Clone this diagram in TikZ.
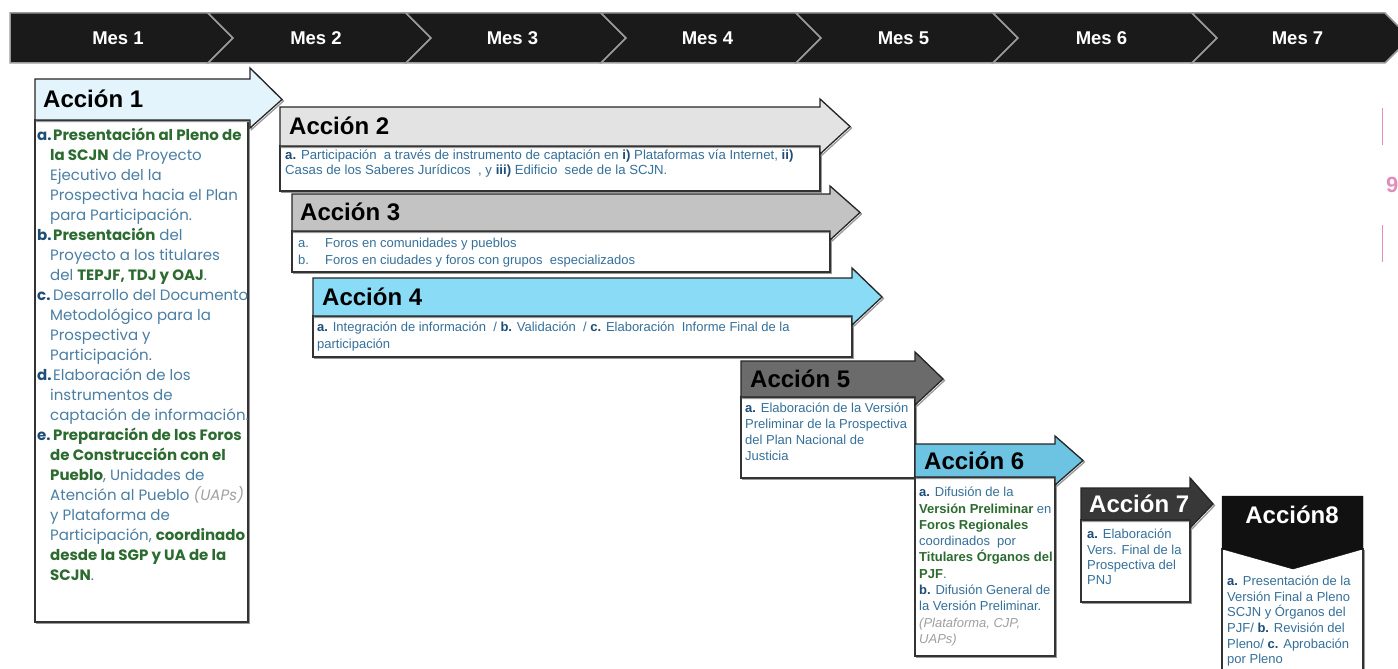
\documentclass[tikz,border=0pt]{standalone}
\usepackage{fontspec}
\setmainfont{Liberation Sans}
\newfontfamily\geo{Poppins}
\definecolor{txtblue}{HTML}{35709A}
\definecolor{boxblue}{HTML}{4A7EA3}
\definecolor{dkblue}{HTML}{1E4D78}
\definecolor{grn}{HTML}{2C6B30}
\definecolor{ltgray}{HTML}{A0A0A0}
\definecolor{pinkc}{HTML}{E38DBB}
\definecolor{barblack}{HTML}{1A1A1A}
\definecolor{bargray}{HTML}{9A9A9A}
\definecolor{fa}{HTML}{E4F4FC}
\definecolor{fb}{HTML}{E3E3E3}
\definecolor{fc}{HTML}{C3C3C3}
\definecolor{fd}{HTML}{8ADCF6}
\definecolor{fe}{HTML}{6B6B6B}
\definecolor{ff}{HTML}{6DC3E2}
\definecolor{fg}{HTML}{383838}
\definecolor{fh}{HTML}{111111}
\newcommand{\hlg}[1]{{\bfseries\color{grn}#1}}
\newcommand{\hlb}[1]{{\bfseries\color{dkblue}#1}}
\newcommand{\hlgray}[1]{{\itshape\color{ltgray}#1}}
\newcommand{\itm}[1]{\makebox[16pt][l]{\hlb{#1}}}
\newcommand{\cnt}{\hspace*{13pt}}
\newcommand{\harrow}[8]{%
  \path[hdr, fill=#1] (#2,#4) -- (#3,#4) -- (#3,#6) -- (#8,{(#4+#5)/2}) -- (#3,#7) -- (#3,#5) -- (#2,#5) -- cycle;}
\tikzset{
  shadowed/.style={preaction={draw=black!40, line width=1.3pt, transform canvas={shift={(1.5,1.5)}}}},
  hdr/.style={shadowed, draw=black!85, line width=1.3pt},
  bx/.style={shadowed, draw=black!80, line width=1.3pt, fill=white},
  htxt/.style={anchor=west, inner sep=0, font=\bfseries\fontsize{24}{24}\selectfont},
  btxt/.style={anchor=north west, inner sep=0, align=left, text=txtblue},
  mes/.style={text=white, inner sep=0, font=\bfseries\fontsize{18.5}{18.5}\selectfont},
  seg/.style={fill=barblack, draw=bargray, line width=1.5pt},
}
\begin{document}
\begin{tikzpicture}[x=1pt, y=-1pt]
\useasboundingbox (0,0) rectangle (1398,669);
% timeline bar
\foreach \L/\R/\N/\lab [count=\i] in {10/208/0/Mes 1, 208/406/25/Mes 2, 406/601/25/Mes 3, 601/796/25/Mes 4, 796/993/25/Mes 5, 993/1192/25/Mes 6, 1192/1385/25/Mes 7} {
  \path[seg] (\L,13) -- (\R,13) -- (\R+25,38) -- (\R,63) -- (\L,63) -- (\L+\N,38) -- cycle;
  \node[mes] (mes\i) at ({(\L+\R)/2+9},38) {\lab};
}
% boxes
\path[bx] (35,120) rectangle (248,622);
\path[bx] (280,146) rectangle (820,191);
\path[bx] (292,231) rectangle (830,272);
\path[bx] (313,316) rectangle (852,357);
\path[bx] (741,397) rectangle (915,478);
\path[bx] (915,477) rectangle (1055,656);
\path[bx] (1081,520) rectangle (1190,602);
\path[bx] (1222,549) rectangle (1363,700);
% headers
\harrow{fa}{35}{250}{79}{120}{68}{128}{282}
\harrow{fb}{280}{820}{107}{146}{99}{154}{850}
\harrow{fc}{292}{830}{194}{231}{186}{240}{860}
\harrow{fd}{313}{852}{278}{316}{268}{325}{882}
\harrow{fe}{741}{915}{361}{397}{352}{405}{943}
\harrow{ff}{915}{1055}{444}{477}{436}{485}{1083}
\harrow{fg}{1081}{1190}{488}{520}{478}{528}{1213}
\path[fill=fh, draw=fh] (1222,496) -- (1363,496) -- (1363,549) -- (1293,569) -- (1222,549) -- cycle;
\node[htxt] (h1) at (43,99) {Acción 1};
\node[htxt] (h2) at (289,126) {Acción 2};
\node[htxt] (h3) at (300,212) {Acción 3};
\node[htxt] (h4) at (322,297) {Acción 4};
\node[htxt] (h5) at (750,379) {Acción 5};
\node[htxt] (h6) at (924,461) {Acción 6};
\node[htxt, text=white] (h7) at (1089,504) {Acción 7};
\node[htxt, text=white, anchor=center] (h8) at (1292,515) {Acción8};
% texts
\node[btxt, text=boxblue, font=\geo\fontsize{15}{20}\selectfont] (t1) at (37,128) {%
\itm{a.}\hlg{Presentación al Pleno de}\\
\cnt\hlg{la SCJN} de Proyecto\\
\cnt Ejecutivo del la\\
\cnt Prospectiva hacia el Plan\\
\cnt para Participación.\\
\itm{b.}\hlg{Presentación} del\\
\cnt Proyecto a los titulares\\
\cnt del \hlg{TEPJF, TDJ y OAJ}.\\
\itm{c.}Desarrollo del Documento\\
\cnt Metodológico para la\\
\cnt Prospectiva y\\
\cnt Participación.\\
\itm{d.}Elaboración de los\\
\cnt instrumentos de\\
\cnt captación de información.\\
\itm{e.}\hlg{Preparación de los Foros}\\
\cnt\hlg{de Construcción con el}\\
\cnt\hlg{Pueblo}, Unidades de\\
\cnt Atención al Pueblo \hlgray{(UAPs)}\\
\cnt y Plataforma de\\
\cnt Participación, \hlg{coordinado}\\
\cnt\hlg{desde la SGP y UA de la}\\
\cnt\hlg{SCJN}.};
\node[btxt, font=\fontsize{13.2}{15}\selectfont] (t2) at (285,150) {%
\hlb{a.} Participación\ \ a través de instrumento de captación en \hlb{i)} Plataformas\ vía Internet, \hlb{ii)}\\
Casas de los Saberes Jurídicos\ \ , y \hlb{iii)} Edificio\ \ sede de la SCJN.};
\node[btxt, font=\fontsize{13}{17}\selectfont] (t3) at (298,238) {%
\makebox[27pt][l]{a.}Foros en comunidades y pueblos\\
\makebox[27pt][l]{b.}Foros en ciudades y foros con grupos\ \ especializados};
\node[btxt, font=\fontsize{13}{17}\selectfont] (t4) at (317,322) {%
\hlb{a.} Integración de información\ \ / \hlb{b.} Validación\ \ / \hlb{c.} Elaboración\ \ Informe Final de la\\
participación};
\node[btxt, font=\fontsize{13}{16}\selectfont] (t5) at (745,403) {%
\hlb{a.} Elaboración de la Versión\\
Preliminar de la Prospectiva\\
del Plan Nacional de\\
Justicia};
\node[btxt, font=\fontsize{13}{16.3}\selectfont] (t6) at (919,487) {%
\hlb{a.} Difusión de la\\
\hlg{Versión Preliminar} en\\
\hlg{Foros Regionales}\\
coordinados\ \ por\\
\hlg{Titulares Órganos del}\\
\hlg{PJF}.\\
\hlb{b.} Difusión General de\\
la Versión Preliminar.\\
\hlgray{(Plataforma, CJP,}\\
\hlgray{UAPs)}};
\node[btxt, font=\fontsize{13}{15.3}\selectfont] (t7) at (1087,529) {%
\hlb{a.} Elaboración\\
Vers. Final de la\\
Prospectiva del\\
PNJ};
\node[btxt, font=\fontsize{13}{15.6}\selectfont] (t8) at (1227,576) {%
\hlb{a.} Presentación de la\\
Versión Final a Pleno\\
SCJN y Órganos del\\
PJF/ \hlb{b.} Revisión del\\
Pleno/ \hlb{c.} Aprobación\\
por Pleno};
% page marker
\draw[pinkc, line width=1pt] (1382,108) coordinate (p1) -- (1382,145) coordinate (p2);
\draw[pinkc, line width=1pt] (1382,225) coordinate (p3) -- (1382,262) coordinate (p4);
\node[text=pinkc, font=\bfseries\fontsize{22}{22}\selectfont, anchor=west, inner sep=0] (pg) at (1386,185) {9};
\end{tikzpicture}
\end{document}
